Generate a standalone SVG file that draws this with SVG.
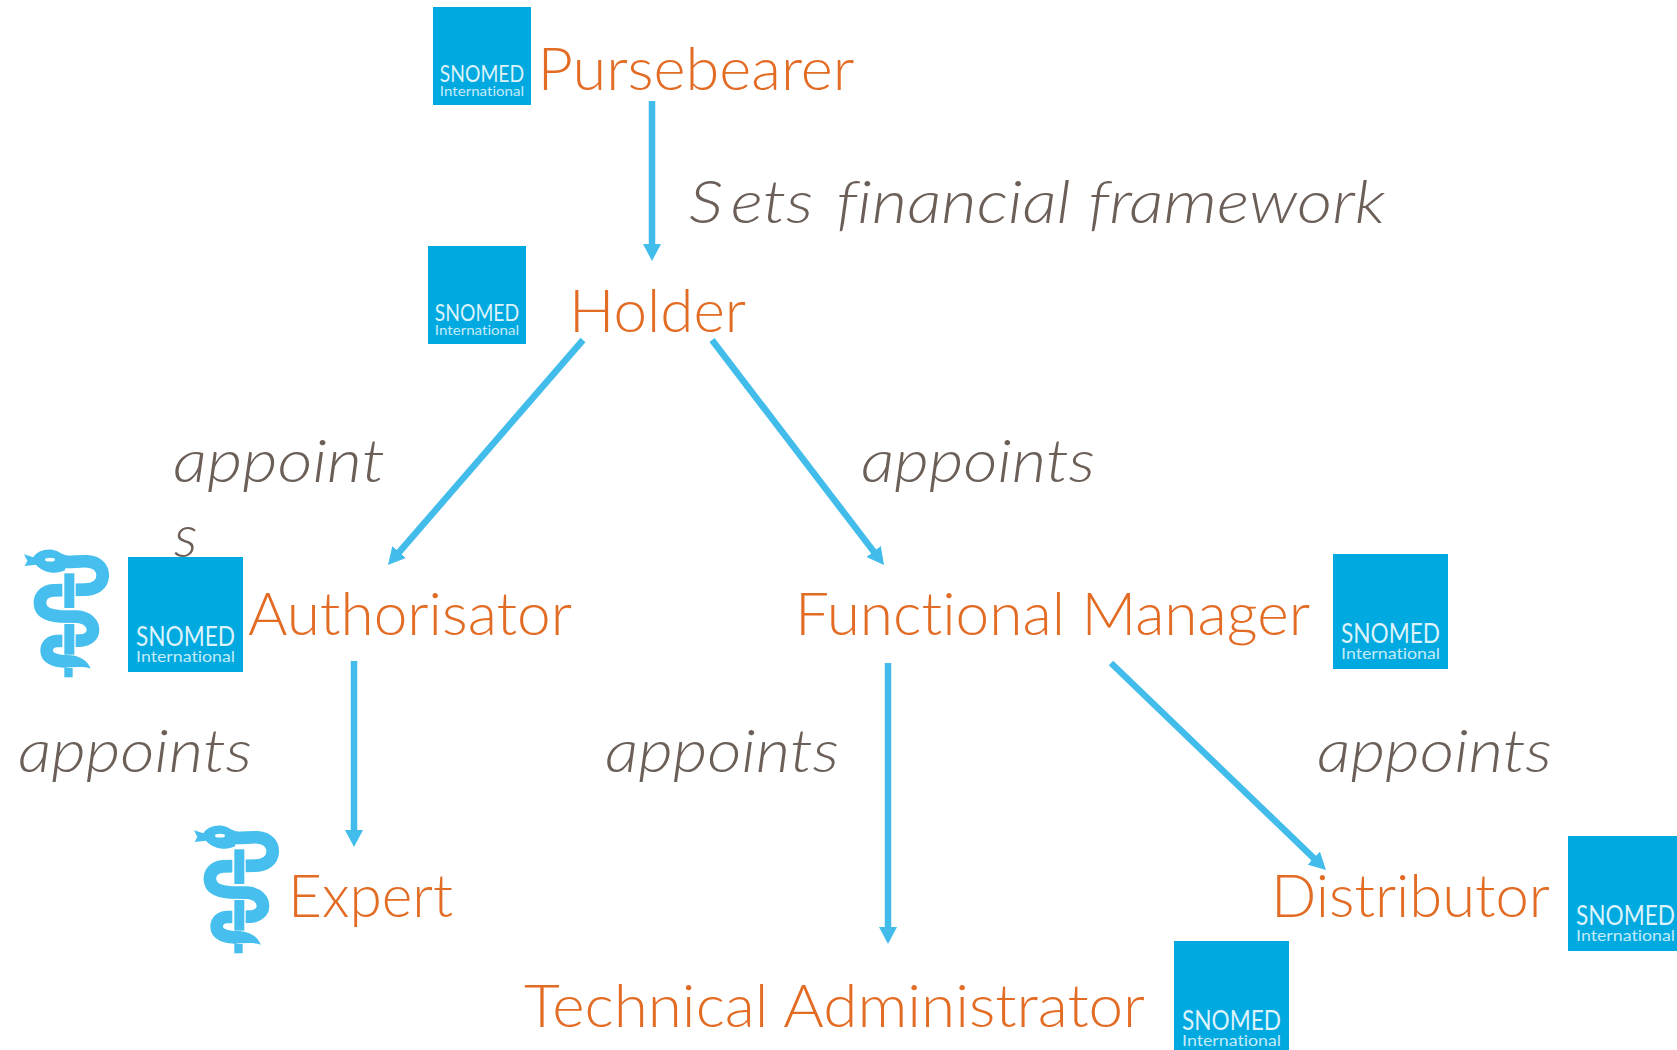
<svg xmlns="http://www.w3.org/2000/svg" xmlns:xlink="http://www.w3.org/1999/xlink" width="1677" height="1050" viewBox="0 0 1677 1050">
<style>
text{font-variant-ligatures:none}
.role{font-family:"Lato","Noto Sans",sans-serif;font-weight:300;font-size:60px;fill:#e36c25}
.verb{font-family:"Lato","Noto Sans",sans-serif;font-weight:300;font-style:italic;font-size:60px;fill:#6b5f58}
.box{fill:#00a9e0}
.sno{font-family:"Lato","Noto Sans",sans-serif;font-weight:400;font-size:24px;fill:#dcf3fb}
.int{font-family:"Lato","Noto Sans",sans-serif;font-weight:400;font-size:14px;fill:#c4ebf8}
.arrow{stroke:#41bceb;stroke-width:6.5;fill:none;marker-end:url(#head)}
.snake{fill:none;stroke:#47bfee;stroke-width:38}
.rod{fill:#47bfee}
</style>
<defs>
<marker id="head" markerUnits="userSpaceOnUse" markerWidth="18" markerHeight="18" refX="9" refY="9" orient="auto"><path d="M0 0L17 9L0 18Z" fill="#41bceb"/></marker>
<g id="staff">
<rect class="rod" x="163" y="432" width="25" height="28"/>
<path class="snake" d="M130 112C180 118 205 110 232 112C265 114 280 135 278 158C276 182 255 197 225 197L130 199C100 200 88 222 90 240C92 265 115 275 150 277L200 278C235 280 249 300 249 318C249 338 230 350 210 350L140 351C120 352 110 365 110 380C110 402 135 412 170 412"/>
<path class="rod" d="M165 393C200 391 232 405 242 434C220 426 190 430 160 431Z"/>
<path class="rod" d="M42 91L70 100C82 80 115 70 142 82C155 90 165 94 175 95L165 139C140 152 100 148 78 122L44 126L52 110Z"/>
<ellipse cx="120" cy="107" rx="15" ry="5.5" fill="#fff"/>
<rect x="157" y="148" width="40" height="105" fill="#fff"/>
<rect class="rod" x="163" y="148" width="30" height="104"/>
<rect x="157" y="300" width="40" height="92" fill="#fff"/>
<rect class="rod" x="163" y="300" width="30" height="92"/>
</g>
</defs>
<rect width="1677" height="1050" fill="#fff"/>
<g id="connectors">
<path class="arrow" d="M652 101V253"/>
<path class="arrow" d="M583 340L393.2 559"/>
<path class="arrow" d="M712 340L879.1 558.6"/>
<path class="arrow" d="M354 661V839"/>
<path class="arrow" d="M888 663V936"/>
<path class="arrow" d="M1111 663L1320.2 864.4"/>
</g>
<g id="labels">
<text class="verb" x="689" y="223" textLength="696" lengthAdjust="spacingAndGlyphs"><tspan>S</tspan><tspan dx="7">ets </tspan><tspan dx="5">financial framework</tspan></text>
<text class="verb" x="173" y="482" textLength="212" lengthAdjust="spacingAndGlyphs">appoint</text>
<text class="verb" x="174" y="557">s</text>
<text class="verb" x="861" y="482" textLength="234" lengthAdjust="spacingAndGlyphs">appoints</text>
<text class="verb" x="18" y="772" textLength="234" lengthAdjust="spacingAndGlyphs">appoints</text>
<text class="verb" x="605" y="772" textLength="234" lengthAdjust="spacingAndGlyphs">appoints</text>
<text class="verb" x="1317" y="772" textLength="235" lengthAdjust="spacingAndGlyphs">appoints</text>
</g>
<g id="pursebearer">
<g transform="translate(433 7) scale(.98)"><rect class="box" width="100" height="100"/><text class="sno" x="7" y="77" textLength="86" lengthAdjust="spacingAndGlyphs">SNOMED</text><text class="int" x="7" y="91" textLength="86" lengthAdjust="spacingAndGlyphs">International</text></g>
<text class="role" x="537.5" y="90" textLength="317" lengthAdjust="spacingAndGlyphs">Pursebearer</text>
</g>
<g id="holder">
<g transform="translate(428 246) scale(.98)"><rect class="box" width="100" height="100"/><text class="sno" x="7" y="77" textLength="86" lengthAdjust="spacingAndGlyphs">SNOMED</text><text class="int" x="7" y="91" textLength="86" lengthAdjust="spacingAndGlyphs">International</text></g>
<text class="role" x="569" y="332" textLength="177" lengthAdjust="spacingAndGlyphs">Holder</text>
</g>
<g id="authorisator">
<use xlink:href="#staff" href="#staff" transform="translate(10 524) scale(.3333)"/>
<g transform="translate(128 557) scale(1.15)"><rect class="box" width="100" height="100"/><text class="sno" x="7" y="77" textLength="86" lengthAdjust="spacingAndGlyphs">SNOMED</text><text class="int" x="7" y="91" textLength="86" lengthAdjust="spacingAndGlyphs">International</text></g>
<text class="role" x="248" y="635" textLength="324" lengthAdjust="spacingAndGlyphs">Authorisator</text>
</g>
<g id="functional-manager">
<g transform="translate(1333 554) scale(1.15)"><rect class="box" width="100" height="100"/><text class="sno" x="7" y="77" textLength="86" lengthAdjust="spacingAndGlyphs">SNOMED</text><text class="int" x="7" y="91" textLength="86" lengthAdjust="spacingAndGlyphs">International</text></g>
<text class="role" x="795" y="635" textLength="515" lengthAdjust="spacingAndGlyphs">Functional Manager</text>
</g>
<g id="expert">
<use xlink:href="#staff" href="#staff" transform="translate(180 800) scale(.3333)"/>
<text class="role" x="288" y="917" textLength="165" lengthAdjust="spacingAndGlyphs">Expert</text>
</g>
<g id="distributor">
<g transform="translate(1568 836) scale(1.15)"><rect class="box" width="100" height="100"/><text class="sno" x="7" y="77" textLength="86" lengthAdjust="spacingAndGlyphs">SNOMED</text><text class="int" x="7" y="91" textLength="86" lengthAdjust="spacingAndGlyphs">International</text></g>
<text class="role" x="1271" y="917" textLength="279" lengthAdjust="spacingAndGlyphs">Distributor</text>
</g>
<g id="technical-administrator">
<g transform="translate(1174 941) scale(1.15)"><rect class="box" width="100" height="100"/><text class="sno" x="7" y="77" textLength="86" lengthAdjust="spacingAndGlyphs">SNOMED</text><text class="int" x="7" y="91" textLength="86" lengthAdjust="spacingAndGlyphs">International</text></g>
<text class="role" x="524" y="1027" textLength="621" lengthAdjust="spacingAndGlyphs">Technical Administrator</text>
</g>
</svg>
